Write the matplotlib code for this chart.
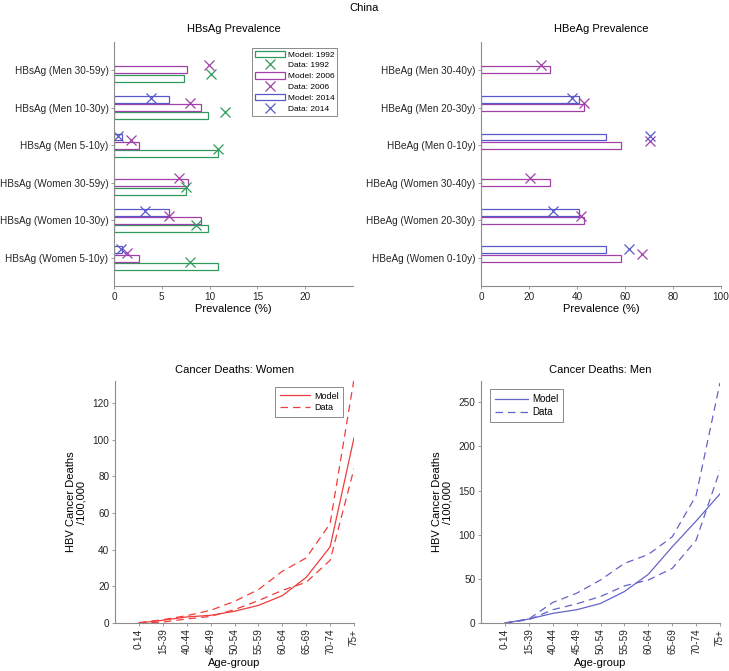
import numpy as np
import matplotlib
matplotlib.use('Agg')
import matplotlib.pyplot as plt
from matplotlib.patches import Patch
from matplotlib.lines import Line2D

plt.rcParams['font.family'] = ['Liberation Sans', 'DejaVu Sans']
plt.rcParams['font.size'] = 7.2

# ---- data ----
hbsag_labels = ['HBsAg (Women 5-10y)', 'HBsAg (Women 10-30y)', 'HBsAg (Women 30-59y)',
                'HBsAg (Men 5-10y)', 'HBsAg (Men 10-30y)', 'HBsAg (Men 30-59y)']
hbsag_model_1992 = [10.9, 9.8, 7.5, 10.85, 9.8, 7.35]
hbsag_data_1992 = [7.9, 8.6, 7.5, 10.9, 11.6, 10.15]
hbsag_model_2006 = [2.6, 9.1, 7.75, 2.6, 9.05, 7.6]
hbsag_data_2006 = [1.35, 5.75, 6.8, 1.8, 8.0, 9.9]
hbsag_model_2014 = [0.85, 5.75, np.nan, 0.85, 5.75, np.nan]
hbsag_data_2014 = [0.7, 3.2, np.nan, 0.4, 3.9, np.nan]

hbeag_labels = ['HBeAg (Women 0-10y)', 'HBeAg (Women 20-30y)', 'HBeAg (Women 30-40y)',
                'HBeAg (Men 0-10y)', 'HBeAg (Men 20-30y)', 'HBeAg (Men 30-40y)']
hbeag_model_2006 = [58.3, 42.8, 28.6, 58.3, 42.8, 28.6]
hbeag_data_2006 = [67.2, 41.7, 20.3, 70.6, 42.9, 25.1]
hbeag_model_2014 = [52.1, 40.8, np.nan, 52.1, 40.8, np.nan]
hbeag_data_2014 = [61.5, 29.9, np.nan, 70.6, 38.1, np.nan]

age_groups = ['0-14', '15-39', '40-44', '45-49', '50-54', '55-59',
              '60-64', '65-69', '70-74', '75+']
women_model = [0, 1.5, 3.3, 4.2, 6.4, 9.6, 14.9, 24.9, 41.5, 101]
women_data_hi = [0.2, 1.8, 4.0, 6.9, 11.8, 18.2, 28.2, 35.5, 54.2, 133]
women_data_lo = [0, 0.5, 2.2, 3.6, 7.3, 12.2, 17.8, 22.2, 34.2, 84.2]
men_model = [0, 4.5, 10.9, 15.0, 22.1, 35.6, 55.1, 86.2, 115.4, 146.2]
men_data_hi = [0, 4.5, 23.2, 33.7, 48.7, 67.5, 77.6, 97.5, 144.3, 272]
men_data_lo = [0, 3.7, 15.0, 21.7, 30.0, 42.0, 48.7, 61.8, 93.7, 173.2]

green = '#2f9a5c'
purple = '#a040a8'
blue = '#5858c8'
red = '#f03c3c'
menblue = '#6464c8'
spine_col = '#8c8c8c'

fig = plt.figure(figsize=(7.29, 6.71), dpi=100)
fig.text(0.5, 1 - 8 / 671, 'China', ha='center', va='center', fontsize=8)


def style(ax):
    for s in ['top', 'right']:
        ax.spines[s].set_visible(False)
    for s in ['left', 'bottom']:
        ax.spines[s].set_color(spine_col)
        ax.spines[s].set_linewidth(0.8)
    ax.tick_params(colors=spine_col, labelcolor='#262626', length=2.5, width=0.6,
                   labelsize=7.2, pad=1.5)


def ax_at(l, r, t, b):
    W, H = 729, 671
    return fig.add_axes([l / W, 1 - b / H, (r - l) / W, (b - t) / H])


h = 0.18
y = np.arange(1, 7)
mk = dict(ls='none', marker='x', ms=6.5, mew=0.9)

# ---- HBsAg ----
ax1 = ax_at(114, 353, 42, 286)
ax1.barh(y - 0.22, hbsag_model_1992, height=h, facecolor='white', edgecolor=green, linewidth=0.9)
ax1.barh(y, hbsag_model_2006, height=h, facecolor='white', edgecolor=purple, linewidth=0.9)
ax1.barh(y + 0.22, hbsag_model_2014, height=h, facecolor='white', edgecolor=blue, linewidth=0.9)
ax1.plot(hbsag_data_1992, y - 0.11, color=green, **mk)
ax1.plot(hbsag_data_2006, y + 0.13, color=purple, **mk)
ax1.plot(hbsag_data_2014, y + 0.24, color=blue, **mk)
ax1.set_xlim(0, 25)
ax1.set_ylim(0.26, 6.74)
ax1.set_xticks([0, 5, 10, 15, 20])
ax1.set_yticks(y)
ax1.set_yticklabels(hbsag_labels)
ax1.set_xlabel('Prevalence (%)', fontsize=8, labelpad=2)
ax1.set_title('HBsAg Prevalence', fontsize=8, pad=7)
style(ax1)

handles = [Patch(facecolor='white', edgecolor=green, linewidth=0.9),
           Line2D([], [], color=green, **mk),
           Patch(facecolor='white', edgecolor=purple, linewidth=0.9),
           Line2D([], [], color=purple, **mk),
           Patch(facecolor='white', edgecolor=blue, linewidth=0.9),
           Line2D([], [], color=blue, **mk)]
leg = ax1.legend(handles, ['Model: 1992', 'Data: 1992', 'Model: 2006', 'Data: 2006',
                           'Model: 2014', 'Data: 2014'],
                 loc='upper right', bbox_to_anchor=(0.935, 0.977), fontsize=6,
                 frameon=True, fancybox=False, handlelength=3.6, handleheight=0.8,
                 labelspacing=0.33, borderpad=0.35, handletextpad=0.4, borderaxespad=0.0)
leg.get_frame().set_edgecolor('#555555')
leg.get_frame().set_linewidth(0.6)

# ---- HBeAg ----
ax2 = ax_at(481, 721, 42, 286)
ax2.barh(y, hbeag_model_2006, height=h, facecolor='white', edgecolor=purple, linewidth=0.9)
ax2.barh(y + 0.22, hbeag_model_2014, height=h, facecolor='white', edgecolor=blue, linewidth=0.9)
ax2.plot(hbeag_data_2006, y + 0.12, color=purple, **mk)
ax2.plot(hbeag_data_2014, y + 0.25, color=blue, **mk)
ax2.set_xlim(0, 100)
ax2.set_ylim(0.26, 6.74)
ax2.set_xticks([0, 20, 40, 60, 80, 100])
ax2.set_yticks(y)
ax2.set_yticklabels(hbeag_labels)
ax2.set_xlabel('Prevalence (%)', fontsize=8, labelpad=2)
ax2.set_title('HBeAg Prevalence', fontsize=8, pad=7)
style(ax2)

# ---- Cancer deaths ----
x = np.arange(1, 11)


def deaths(ax, model, hi, lo, col, title, ymax, yticks, legloc, anchor, legfs):
    ax.plot(x, model, '-', color=col, lw=0.9, label='Model')
    ax.plot(x, hi, '--', color=col, lw=0.9, dashes=(6, 4), label='Data')
    ax.plot(x, lo, '--', color=col, lw=0.9, dashes=(6, 4))
    ax.set_xlim(0, 10)
    ax.set_ylim(0, ymax)
    ax.set_xticks(x)
    ax.set_xticklabels(age_groups, rotation=90)
    ax.set_yticks(yticks)
    ax.set_xlabel('Age-group', fontsize=8)
    ax.xaxis.set_label_coords(0.5, -0.145)
    ax.set_ylabel('HBV Cancer Deaths\n/100,000', fontsize=8, linespacing=1.1)
    ax.yaxis.set_label_coords(-0.12, 0.5)
    ax.set_title(title, fontsize=8, pad=6)
    style(ax)
    lg = ax.legend(loc=legloc, bbox_to_anchor=anchor, fontsize=legfs, frameon=True,
                   fancybox=False, handlelength=3.4, labelspacing=0.3, borderpad=0.5,
                   handletextpad=0.4, borderaxespad=0.0)
    lg.get_frame().set_edgecolor('#555555')
    lg.get_frame().set_linewidth(0.6)


ax3 = ax_at(115, 354, 381, 623)
deaths(ax3, women_model, women_data_hi, women_data_lo, red, 'Cancer Deaths: Women',
       132, [0, 20, 40, 60, 80, 100, 120], 'upper right', (0.955, 0.975), 6.5)
ax4 = ax_at(481, 720, 381, 623)
deaths(ax4, men_model, men_data_hi, men_data_lo, menblue, 'Cancer Deaths: Men',
       274, [0, 50, 100, 150, 200, 250], 'upper left', (0.038, 0.965), 7)

fig.savefig('out.png', dpi=100)
